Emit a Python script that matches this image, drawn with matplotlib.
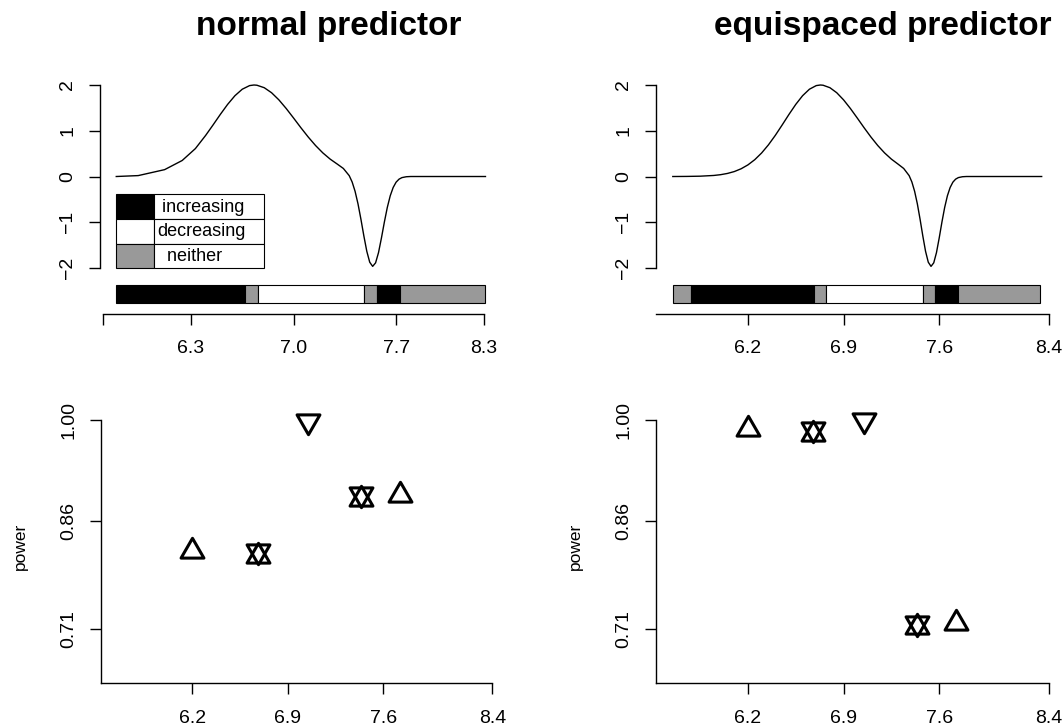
import matplotlib
matplotlib.use("Agg")
import matplotlib.pyplot as plt
from matplotlib.path import Path
from matplotlib.markers import MarkerStyle
from matplotlib.patches import Rectangle

plt.rcParams['font.family'] = ['Liberation Sans', 'DejaVu Sans']

# ---- regression function evaluated at the two predictor designs ----
normal_x = [5.79, 5.94, 6.12, 6.24, 6.33, 6.40, 6.45, 6.50, 6.55, 6.60, 6.65,
            6.70, 6.73, 6.75, 6.80, 6.85, 6.90, 6.95, 7.00, 7.05, 7.10, 7.15,
            7.20, 7.25, 7.30, 7.34, 7.38, 7.40, 7.42, 7.44, 7.46, 7.48, 7.50,
            7.52, 7.54, 7.56, 7.58, 7.60, 7.62, 7.64, 7.66, 7.68, 7.70, 7.72,
            7.74, 7.77, 7.80, 8.31]
normal_f = [0.00, 0.02, 0.15, 0.35, 0.61, 0.898, 1.124, 1.356, 1.576, 1.766,
            1.908, 1.987, 2.000, 1.995, 1.941, 1.831, 1.675, 1.486, 1.279,
            1.067, 0.864, 0.678, 0.516, 0.380, 0.268, 0.176, 0.019, -0.120,
            -0.323, -0.598, -0.935, -1.299, -1.634, -1.873, -1.964, -1.887,
            -1.663, -1.343, -0.995, -0.676, -0.421, -0.240, -0.124, -0.058,
            -0.024, -0.005, 0.000, 0.000]

equi_x = [5.65, 5.75, 5.85, 5.95, 6.00, 6.05, 6.10, 6.15, 6.20, 6.25, 6.30,
          6.35, 6.40, 6.45, 6.50, 6.55, 6.60, 6.65, 6.70, 6.73, 6.75, 6.80,
          6.85, 6.90, 6.95, 7.00, 7.05, 7.10, 7.15, 7.20, 7.25, 7.30, 7.34,
          7.38, 7.40, 7.42, 7.44, 7.46, 7.48, 7.50, 7.52, 7.54, 7.56, 7.58,
          7.60, 7.62, 7.64, 7.66, 7.68, 7.70, 7.72, 7.74, 7.77, 7.80, 7.90,
          8.35]
equi_f = [0.000, 0.002, 0.007, 0.023, 0.040, 0.067, 0.108, 0.169, 0.254,
          0.368, 0.514, 0.692, 0.898, 1.124, 1.356, 1.576, 1.766, 1.908,
          1.987, 2.000, 1.995, 1.941, 1.831, 1.675, 1.486, 1.279, 1.067,
          0.864, 0.678, 0.516, 0.380, 0.268, 0.176, 0.019, -0.120, -0.323,
          -0.598, -0.935, -1.299, -1.634, -1.873, -1.964, -1.887, -1.663,
          -1.343, -0.995, -0.676, -0.421, -0.240, -0.124, -0.058, -0.024,
          -0.005, 0.000, 0.000, 0.000]

# ---- monotonicity strip: interval breaks and the state on each interval ----
normal_breaks = [5.79, 6.67, 6.76, 7.48, 7.57, 7.73, 8.31]
normal_state = ['increasing', 'neither', 'decreasing', 'neither',
                'increasing', 'neither']
equi_breaks = [5.65, 5.78, 6.68, 6.77, 7.48, 7.57, 7.74, 8.34]
equi_state = ['neither', 'increasing', 'neither', 'decreasing', 'neither',
              'increasing', 'neither']
legend_states = ['increasing', 'decreasing', 'neither']
legend_text = [' increasing', 'decreasing', '  neither']

# ---- axis ticks ----
normal_ticks = [5.70, 6.3, 7.0, 7.7, 8.3]
normal_ticklabels = ['', '6.3', '7.0', '7.7', '8.3']
equi_ticks = [6.2, 6.9, 7.6, 8.4]
equi_ticklabels = ['6.2', '6.9', '7.6', '8.4']
f_ticks = [-2, -1, 0, 1, 2]
f_ticklabels = ['\u22122', '\u22121', '0', '1', '2']
power_xticks = [6.2, 6.9, 7.6, 8.4]
power_xticklabels = ['6.2', '6.9', '7.6', '8.4']
power_yticks = [0.71, 0.86, 1.00]
power_yticklabels = ['0.71', '0.86', '1.00']

# ---- power of the tests at the test locations ----
test_x = [6.20, 6.68, 7.05, 7.44, 7.72]
normal_power_inc = [0.818, 0.812, None, 0.891, 0.896]
normal_power_dec = [None, 0.818, 0.999, 0.897, None]
equi_power_inc = [0.988, 0.981, None, 0.713, 0.718]
equi_power_dec = [None, 0.987, 1.000, 0.719, None]

state_colors = {'increasing': 'black', 'decreasing': 'white',
                'neither': '#999999'}

W, H = 1064, 728
fig = plt.figure(figsize=(W / 100, H / 100), dpi=100)


def px_axes(left, top, right, bottom):
    return fig.add_axes([left / W, 1 - bottom / H, (right - left) / W,
                         (bottom - top) / H])


def style_axes(ax):
    for side in ('top', 'right'):
        ax.spines[side].set_visible(False)
    for side in ('left', 'bottom'):
        ax.spines[side].set_linewidth(1.0)
    ax.tick_params(direction='out', length=8, width=1.0, labelsize=14)
    ax.tick_params(axis='x', pad=11)
    ax.tick_params(axis='y', pad=9)


def draw_function_panel(ax, xs, fs, breaks, states, xlim, xticks, xlabels,
                        xbounds):
    ax.plot(xs, fs, color='black', lw=1.0, clip_on=False)
    ax.set_xlim(*xlim)
    ax.set_ylim(-3.005, 2.0)
    y0, y1 = -2.765, -2.372
    for a, b, s in zip(breaks[:-1], breaks[1:], states):
        ax.add_patch(Rectangle((a, y0), b - a, y1 - y0,
                               facecolor=state_colors[s], edgecolor='black',
                               lw=0.8, clip_on=False))
    style_axes(ax)
    ax.spines['left'].set_bounds(-2, 2)
    ax.spines['bottom'].set_bounds(*xbounds)
    ax.set_xticks(xticks, xlabels)
    ax.set_yticks(f_ticks, f_ticklabels, rotation=90, va='center')


def triangle(direction):
    s = 1 if direction == 'up' else -1
    verts = [(0, s * 1.555), (-1.347, -s * 0.778), (1.347, -s * 0.778),
             (0, s * 1.555)]
    codes = [Path.MOVETO, Path.LINETO, Path.LINETO, Path.CLOSEPOLY]
    return MarkerStyle(Path(verts, codes), joinstyle='miter')


def draw_power_panel(ax, inc, dec):
    for vals, direction in ((inc, 'up'), (dec, 'down')):
        pts = [(x, v) for x, v in zip(test_x, vals) if v is not None]
        ax.plot([p[0] for p in pts], [p[1] for p in pts], linestyle='none',
                marker=triangle(direction), markersize=19, mfc='none',
                mec='black', mew=2.2, clip_on=False)
    ax.set_xlim(5.528, 8.4)
    ax.set_ylim(0.635, 1.0)
    style_axes(ax)
    ax.set_xticks(power_xticks, power_xticklabels)
    ax.set_yticks(power_yticks, power_yticklabels, rotation=90, va='center')
    ax.set_ylabel('power', fontsize=12.5)
    ax.yaxis.set_label_coords(-73 / 392, 0.52)


# top row: the regression function and its monotonicity strip
ax_tl = px_axes(100, 85, 484, 314)
draw_function_panel(ax_tl, normal_x, normal_f, normal_breaks, normal_state,
                    (5.679, 8.3), normal_ticks, normal_ticklabels, (5.70, 8.3))

ax_tr = px_axes(656, 85, 1048.5, 314)
draw_function_panel(ax_tr, equi_x, equi_f, equi_breaks, equi_state,
                    (5.527, 8.4), equi_ticks, equi_ticklabels, (5.527, 8.4))

# colour key inside the first panel
rows = [-0.389, -0.929, -1.469, -2.007]
sw_left, sw_right, box_right = 5.79, 6.047, 6.798
for i, state in enumerate(legend_states):
    top, bot = rows[i], rows[i + 1]
    ax_tl.add_patch(Rectangle((sw_left, bot), sw_right - sw_left, top - bot,
                              facecolor=state_colors[state],
                              edgecolor='black', lw=0.8))
    ax_tl.add_patch(Rectangle((sw_right, bot), box_right - sw_right,
                              top - bot, facecolor='white',
                              edgecolor='black', lw=0.8))
    ax_tl.text(sw_right + 0.02, (top + bot) / 2 - 0.109,
               legend_text[i], fontsize=13, ha='left', va='baseline')

# bottom row: power of the tests
ax_bl = px_axes(100.7, 420, 492.4, 683.3)
draw_power_panel(ax_bl, normal_power_inc, normal_power_dec)

ax_br = px_axes(656, 420, 1048.5, 683.3)
draw_power_panel(ax_br, equi_power_inc, equi_power_dec)

fig.text(329 / W, 1 - 35 / H, 'normal predictor', fontsize=24,
         fontweight='bold', ha='center', va='baseline')
fig.text(882.5 / W, 1 - 35 / H, 'equispaced predictor', fontsize=24,
         fontweight='bold', ha='center', va='baseline')

fig.savefig('out.png', dpi=100, facecolor='white')
